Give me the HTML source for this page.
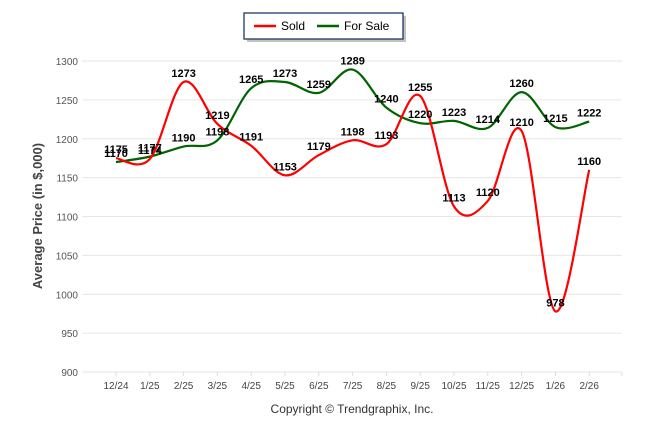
<!DOCTYPE html>
<html><head><meta charset="utf-8"><style>
body{margin:0;background:#fff;width:646px;height:434px;overflow:hidden;font-family:"Liberation Sans",sans-serif}
svg{position:absolute;left:0;top:0}
</style></head><body>
<svg id="chart" width="646" height="434">
<g>
<rect x="247" y="16" width="159" height="26" fill="#999" opacity="0.6"/>
<rect x="244" y="13" width="159" height="26" fill="#fff" stroke="#1f3864" stroke-width="1.3"/>
<line x1="254" y1="26" x2="276" y2="26" stroke="#f00" stroke-width="2.5"/>
<text x="281" y="30" font-size="12">Sold</text>
<line x1="317" y1="26" x2="339" y2="26" stroke="#006400" stroke-width="2.5"/>
<text x="344" y="30" font-size="12">For Sale</text>
</g>
<text transform="translate(42,216) rotate(-90)" text-anchor="middle" font-size="13" font-weight="bold" fill="#444">Average Price (in $,000)</text>
<text x="352" y="413" text-anchor="middle" font-size="12" fill="#333">Copyright © Trendgraphix, Inc.</text>
<g id="grid"></g><g id="lines"></g><g id="labels"></g>
</svg>
<script>
const categories=["12/24","1/25","2/25","3/25","4/25","5/25","6/25","7/25","8/25","9/25","10/25","11/25","12/25","1/26","2/26"];
const soldValues=[1175,1174,1273,1219,1191,1153,1179,1198,1193,1255,1113,1120,1210,978,1160];
const forSaleValues=[1170,1177,1190,1198,1265,1273,1259,1289,1240,1220,1223,1214,1260,1215,1222];
const yTicks=[900,950,1000,1050,1100,1150,1200,1250,1300];
const NS="http://www.w3.org/2000/svg";
const L=82,R=622,T=61,B=372,x0=116,step=33.8;
const x=i=>x0+i*step;
const y=v=>B-(v-900)/400*(B-T);
function mk(tag,attrs,parent){const e=document.createElementNS(NS,tag);for(const k in attrs)e.setAttribute(k,attrs[k]);parent.appendChild(e);return e;}
const grid=document.getElementById('grid'),lines=document.getElementById('lines'),labels=document.getElementById('labels');
yTicks.forEach(v=>{
 const g=mk('line',{x1:L,x2:R,y1:y(v),y2:y(v),stroke:'#e6e6e6'},grid);
 
 
 const t=mk('text',{x:L-4,y:y(v)+4,'text-anchor':'end','font-size':'10',fill:'#555'},grid);
 t.textContent=v;
 
 
});
categories.forEach((c,i)=>{
 const tk=mk('line',{x1:x(i),x2:x(i),y1:B,y2:B+4,stroke:'#ddd'},grid);
 
 
 const t=mk('text',{x:x(i),y:B+17,'text-anchor':'middle','font-size':'10',fill:'#444'},grid);
 t.textContent=c;
 
 
});
const tk2=mk('line',{x1:R,x2:R,y1:B,y2:B+4,stroke:'#ddd'},grid);


function path(vals){
 const p=vals.map((v,i)=>[x(i),y(v)]);
 let d=`M${p[0][0]},${p[0][1]}`;
 for(let i=0;i<p.length-1;i++){
  const p0=p[i-1]||p[i],p1=p[i],p2=p[i+1],p3=p[i+2]||p2;
  const c1=[p1[0]+(p2[0]-p0[0])/6,p1[1]+(p2[1]-p0[1])/6];
  const c2=[p2[0]-(p3[0]-p1[0])/6,p2[1]-(p3[1]-p1[1])/6];
  d+=`C${c1[0]},${c1[1]} ${c2[0]},${c2[1]} ${p2[0]},${p2[1]}`;
 }
 return d;
}
const ls=mk('path',{d:path(forSaleValues),fill:'none',stroke:'#006400','stroke-width':'2.2'},lines);


const lr=mk('path',{d:path(soldValues),fill:'none',stroke:'#f00','stroke-width':'2.2'},lines);


[[forSaleValues,'forsale-value-label'],[soldValues,'sold-value-label']].forEach(([vals,name])=>{
 vals.forEach((v,i)=>{
  const t=mk('text',{x:x(i),y:y(v)-5,'text-anchor':'middle','font-size':'11','font-weight':'bold',fill:'#000'},labels);
  t.textContent=v;
  
  
 });
});
</script>
</body></html>
